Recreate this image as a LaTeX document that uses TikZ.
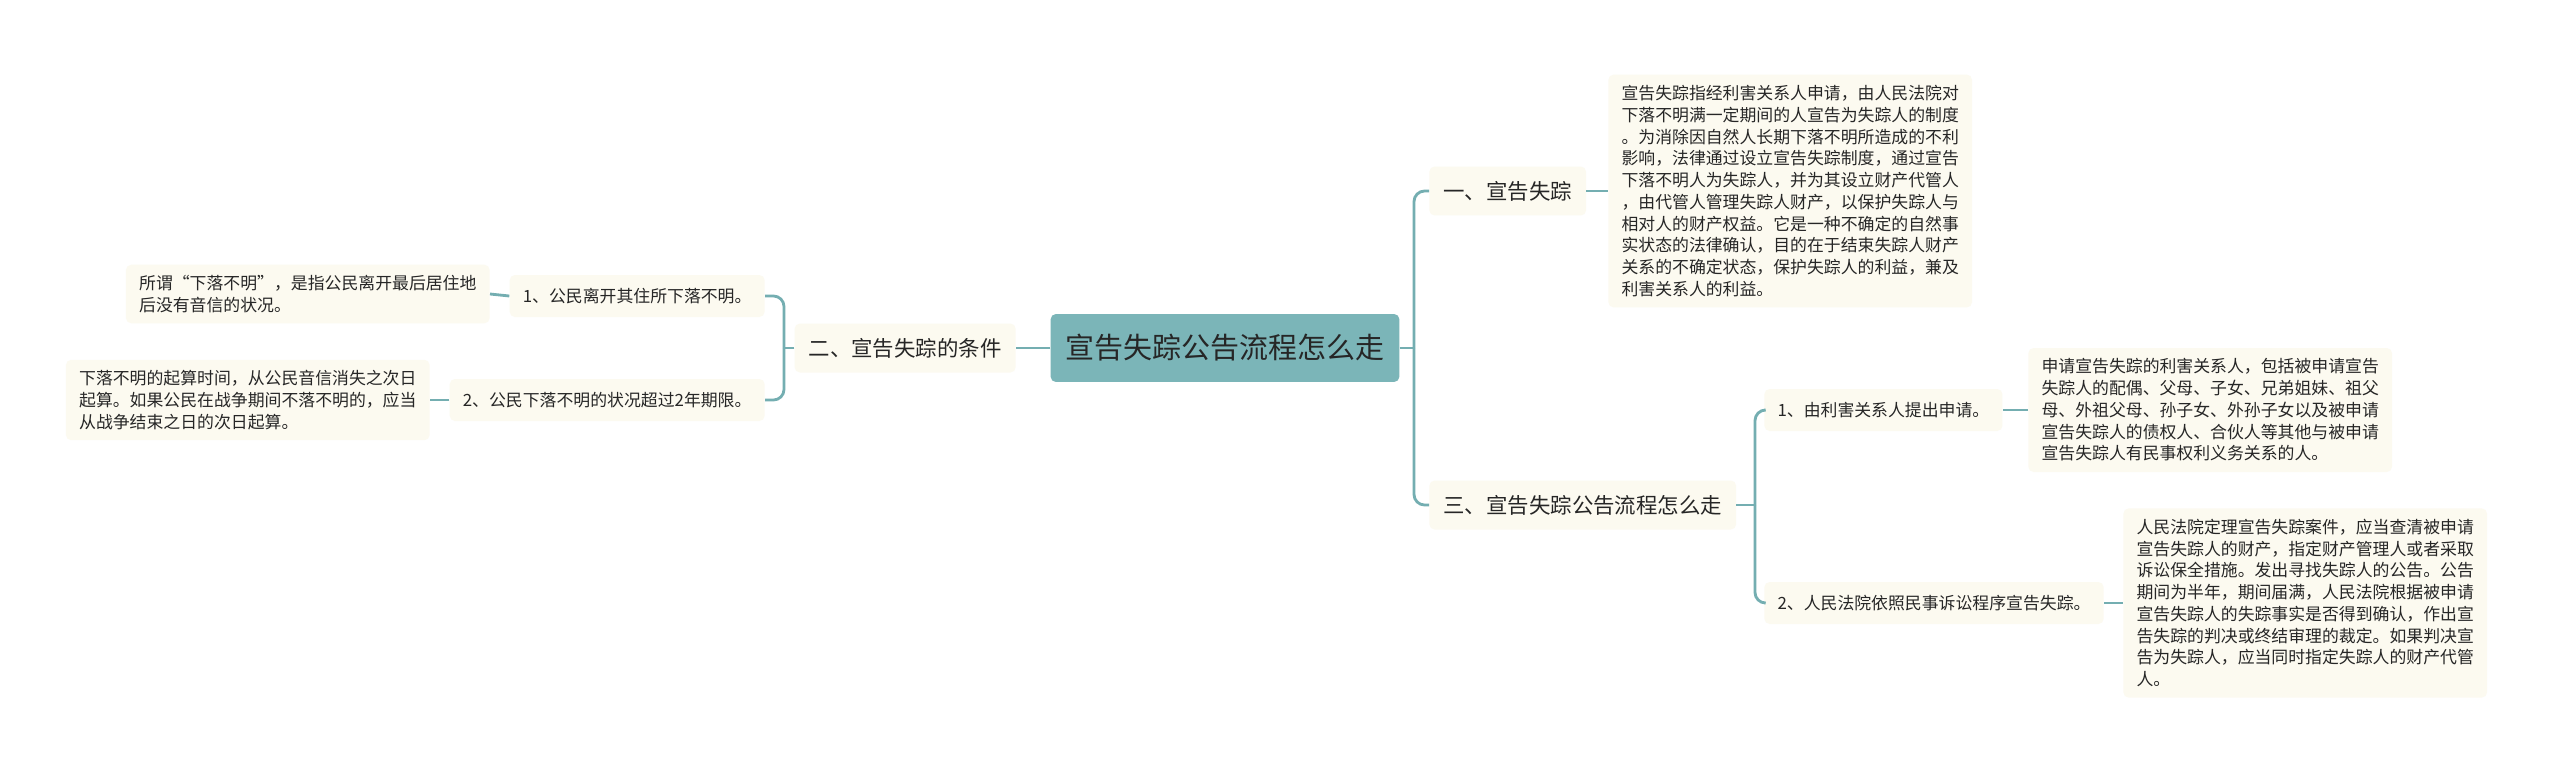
\documentclass[tikz,border=0pt]{standalone}
\usepackage{fontspec}
\setmainfont{Noto Sans CJK SC}
\usetikzlibrary{positioning}
\definecolor{linkteal}{HTML}{74AEB1}
\definecolor{rootfill}{HTML}{7BB5B8}
\definecolor{notefill}{HTML}{FCFAF0}
\definecolor{inkgray}{HTML}{262626}

\begin{document}
\begin{tikzpicture}[x=0.02cm, y=-0.02cm,
    link/.style={draw=linkteal, line width=1.6pt},
    titlebox/.style={fill=rootfill, rounded corners=3pt, inner xsep=8.5pt, minimum height=1.36cm, font=\fontsize{16.5}{20}\selectfont, text=inkgray},
    secbox/.style={fill=notefill, rounded corners=3pt, inner xsep=8pt, minimum height=0.98cm, font=\fontsize{12.2}{15}\selectfont, text=inkgray},
    itembox/.style={fill=notefill, rounded corners=3pt, inner xsep=7.5pt, minimum height=0.84cm, font=\fontsize{9.6}{12.4}\selectfont, text=inkgray},
    notebox/.style={itembox, align=left, inner ysep=6pt, minimum height=0pt},
  ]
  \fill[white] (0,0) rectangle (2560,771);
  \useasboundingbox (0,0) rectangle (2560,771);

  % centre and main branches
  \node[titlebox] (title) at (1225,348) {宣告失踪公告流程怎么走};
  \node[secbox, anchor=east] (sec2) at (1016,348) {二、宣告失踪的条件};
  \node[secbox, anchor=west] (sec1) at (1429,191) {一、宣告失踪};
  \node[secbox, anchor=west] (sec3) at (1429,505) {三、宣告失踪公告流程怎么走};

  % left side
  \node[itembox, anchor=east] (item21) at (765,296) {1、公民离开其住所下落不明。};
  \node[itembox, anchor=east] (item22) at (765,400) {2、公民下落不明的状况超过2年期限。};
  \node[notebox, anchor=east] (note21) at (490,294) {所谓“下落不明”，是指公民离开最后居住地\\后没有音信的状况。};
  \node[notebox, anchor=east] (note22) at (430,400) {下落不明的起算时间，从公民音信消失之次日\\起算。如果公民在战争期间不落不明的，应当\\从战争结束之日的次日起算。};

  % right side
  \node[notebox, anchor=west] (note1) at (1608,191) {宣告失踪指经利害关系人申请，由人民法院对\\下落不明满一定期间的人宣告为失踪人的制度\\。为消除因自然人长期下落不明所造成的不利\\影响，法律通过设立宣告失踪制度，通过宣告\\下落不明人为失踪人，并为其设立财产代管人\\，由代管人管理失踪人财产，以保护失踪人与\\相对人的财产权益。它是一种不确定的自然事\\实状态的法律确认，目的在于结束失踪人财产\\关系的不确定状态，保护失踪人的利益，兼及\\利害关系人的利益。};
  \node[itembox, anchor=west] (item31) at (1764,410) {1、由利害关系人提出申请。};
  \node[itembox, anchor=west] (item32) at (1764,603) {2、人民法院依照民事诉讼程序宣告失踪。};
  \node[notebox, anchor=west] (note31) at (2028,410) {申请宣告失踪的利害关系人，包括被申请宣告\\失踪人的配偶、父母、子女、兄弟姐妹、祖父\\母、外祖父母、孙子女、外孙子女以及被申请\\宣告失踪人的债权人、合伙人等其他与被申请\\宣告失踪人有民事权利义务关系的人。};
  \node[notebox, anchor=west] (note32) at (2123,603) {人民法院定理宣告失踪案件，应当查清被申请\\宣告失踪人的财产，指定财产管理人或者采取\\诉讼保全措施。发出寻找失踪人的公告。公告\\期间为半年，期间届满，人民法院根据被申请\\宣告失踪人的失踪事实是否得到确认，作出宣\\告失踪的判决或终结审理的裁定。如果判决宣\\告为失踪人，应当同时指定失踪人的财产代管\\人。};

  % connectors
  \coordinate (rbus) at (1414,348);
  \coordinate (lbus) at (784,348);
  \coordinate (tbus) at (1755,505);
  \draw[link] (title.east) -- (rbus);
  \draw[link, rounded corners=6pt] (rbus) |- (sec1.west);
  \draw[link, rounded corners=6pt] (rbus) |- (sec3.west);
  \draw[link] (title.west) -- (sec2.east);
  \draw[link] (sec2.west) -- (lbus);
  \draw[link, rounded corners=6pt] (lbus) |- (item21.east);
  \draw[link, rounded corners=6pt] (lbus) |- (item22.east);
  \draw[link] (item21.west) -- (note21.east);
  \draw[link] (item22.west) -- (note22.east);
  \draw[link] (sec1.east) -- (note1.west);
  \draw[link] (sec3.east) -- (tbus);
  \draw[link, rounded corners=6pt] (tbus) |- (item31.west);
  \draw[link, rounded corners=6pt] (tbus) |- (item32.west);
  \draw[link] (item31.east) -- (note31.west);
  \draw[link] (item32.east) -- (note32.west);
\end{tikzpicture}
\end{document}
